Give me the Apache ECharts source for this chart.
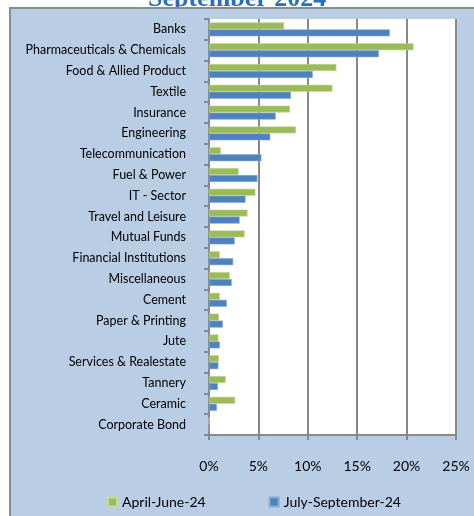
<!DOCTYPE html>
<html>
<head>
<meta charset="utf-8">
<script src="https://cdn.jsdelivr.net/npm/echarts@6/dist/echarts.min.js"></script>
<style>
html,body{margin:0;padding:0;background:#ffffff;}
#chart{width:474px;height:516px;}
</style>
</head>
<body>
<div id="chart"></div>
<script>
var categories = ['Banks','Pharmaceuticals & Chemicals','Food & Allied Product','Textile','Insurance','Engineering','Telecommunication','Fuel & Power','IT - Sector','Travel and Leisure','Mutual Funds','Financial Institutions','Miscellaneous','Cement','Paper & Printing','Jute','Services & Realestate','Tannery','Ceramic','Corporate Bond'];
var aprilJune = [7.6,20.7,12.9,12.5,8.2,8.8,1.2,3.0,4.7,3.9,3.6,1.1,2.1,1.1,1.0,0.95,1.0,1.7,2.65,0];
var julySeptember = [18.3,17.2,10.5,8.3,6.75,6.2,5.3,4.9,3.7,3.1,2.6,2.45,2.3,1.8,1.4,1.1,0.95,0.9,0.8,0];
var seriesNames = ['April-June-24','July-September-24'];
var titleText = 'September 2024';

var chart = echarts.init(document.getElementById('chart'), null, {renderer:'canvas'});
var font = 'Lato';
var gridColor = '#898989';
chart.setOption({
  backgroundColor: '#ffffff',
  animation: false,
  graphic: [
    {type:'text', left: 148, top: -14, z: -20, style:{text: titleText, fill:'#2870BD', font:'bold 26px "Liberation Serif"'}},
    {type:'rect', shape:{x:10, y:8, width:480, height:520}, z:-10, style:{fill:'#B9CDE5', stroke:'#8c8c8c', lineWidth:2}}
  ],
  grid: {left:209, right:18, top:19, bottom:81, show:true, backgroundColor:'#ffffff', borderWidth:0},
  legend: {
    left: 102, top: 490, itemWidth: 9, itemHeight: 9, itemGap: 63, icon:'rect',
    textStyle:{fontFamily:font, fontSize:14, color:'#000'},
    data: seriesNames
  },
  xAxis: {
    type:'value', min:0, max:25, interval:5,
    axisLabel:{formatter:'{value}%', fontFamily:font, fontSize:14, color:'#000', margin:24},
    axisLine:{show:true, lineStyle:{color:gridColor, width:2}},
    axisTick:{show:true, length:5, lineStyle:{color:gridColor, width:2}},
    splitLine:{show:true, lineStyle:{color:gridColor, width:2}}
  },
  yAxis: {
    type:'category', inverse:true, data: categories,
    axisLabel:{fontFamily:font, fontSize:12.5, color:'#000', margin:23},
    axisLine:{show:true, lineStyle:{color:gridColor, width:2}},
    axisTick:{show:true, length:5, lineStyle:{color:gridColor, width:2}}
  },
  series: [
    {name: seriesNames[0], type:'bar', data: aprilJune, barWidth:7, barGap:'0%',
     itemStyle:{color:'#9BBB59', borderColor:'#c5d99b', borderWidth:0.6}},
    {name: seriesNames[1], type:'bar', data: julySeptember, barWidth:7, barGap:'0%',
     itemStyle:{color:'#4F81BD', borderColor:'#8aaad4', borderWidth:0.6}}
  ]
});
</script>
</body>
</html>
